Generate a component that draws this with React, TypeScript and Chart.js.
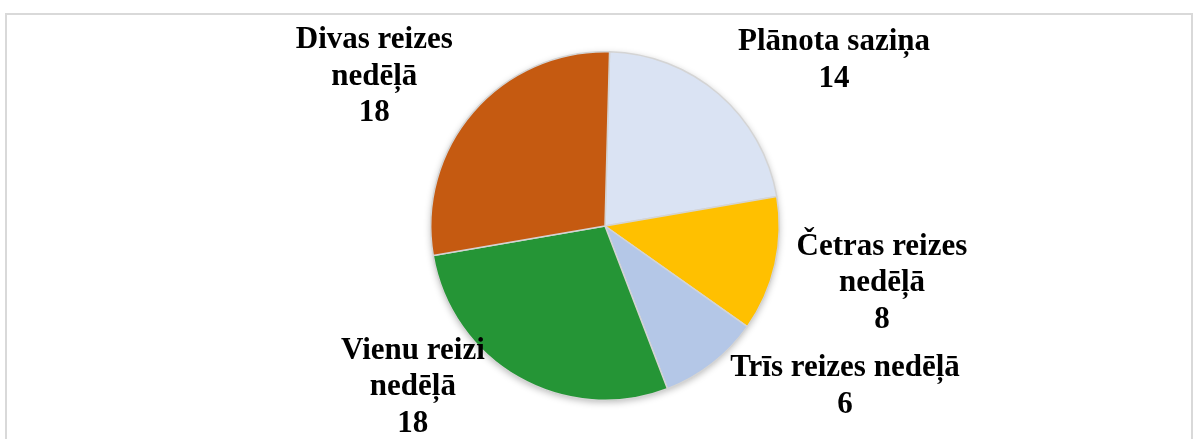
import React, { useEffect, useRef } from "react";
import { Chart, registerables } from "chart.js";

Chart.register(...registerables);

const categories = [
  "Plānota saziņa",
  "Četras reizes nedēļā",
  "Trīs reizes nedēļā",
  "Vienu reizi nedēļā",
  "Divas reizes nedēļā",
];
const values = [14, 8, 6, 18, 18];
const labelLines = [
  ["Plānota saziņa"],
  ["Četras reizes", "nedēļā"],
  ["Trīs reizes nedēļā"],
  ["Vienu reizi", "nedēļā"],
  ["Divas reizes", "nedēļā"],
];
const colors = ["#DAE3F3", "#FFC000", "#B4C7E7", "#259536", "#C55A11"];
// label offsets (px) from the outer edge point at each slice's mid-angle
const labelOffsets = [
  [115, -34],
  [107, 19],
  [133, 23],
  [-106, 10],
  [-99, -35],
];

const W = 1197;
const H = 439;

export default function App() {
  const ref = useRef<HTMLCanvasElement | null>(null);

  useEffect(() => {
    document.body.style.margin = "0";
    const canvas = ref.current!;
    const shadowPlugin = {
      id: "pieShadow",
      beforeDatasetsDraw(chart: any) {
        const meta = chart.getDatasetMeta(0);
        const a = meta.data[0];
        if (!a) return;
        const ctx = chart.ctx;
        ctx.save();
        ctx.shadowColor = "rgba(0,0,0,0.28)";
        ctx.shadowBlur = 7;
        ctx.shadowOffsetX = 0;
        ctx.shadowOffsetY = 2;
        ctx.fillStyle = "#ffffff";
        ctx.beginPath();
        ctx.arc(a.x, a.y, a.outerRadius, 0, Math.PI * 2);
        ctx.fill();
        ctx.restore();
      },
    };
    const labelPlugin = {
      id: "sliceLabels",
      afterDatasetsDraw(chart: any) {
        const meta = chart.getDatasetMeta(0);
        const ctx = chart.ctx;
        ctx.save();
        ctx.fillStyle = "#000000";
        ctx.font = "bold 31px 'Liberation Serif', 'Times New Roman', serif";
        ctx.textAlign = "center";
        ctx.textBaseline = "middle";
        const lh = 36.5;
        meta.data.forEach((arc: any, i: number) => {
          const mid = (arc.startAngle + arc.endAngle) / 2;
          const ox = arc.x + Math.cos(mid) * arc.outerRadius;
          const oy = arc.y + Math.sin(mid) * arc.outerRadius;
          const cx = ox + labelOffsets[i][0];
          const cy = oy + labelOffsets[i][1];
          const lines = [...labelLines[i], String(values[i])];
          const top = cy - ((lines.length - 1) * lh) / 2;
          lines.forEach((t, k) => ctx.fillText(t, cx, top + k * lh));
        });
        ctx.restore();
      },
    };
    const chart = new Chart(canvas, {
      type: "pie",
      data: {
        labels: categories,
        datasets: [
          {
            data: values,
            backgroundColor: colors,
            borderColor: "#d4d4d4",
            borderWidth: 1.5,
          },
        ],
      },
      options: {
        responsive: false,
        animation: false,
        rotation: 1.5,
        layout: { padding: { left: 430, right: 417, top: 51, bottom: 38 } },
        plugins: {
          legend: { display: false },
          tooltip: { enabled: false },
        },
      },
      plugins: [shadowPlugin, labelPlugin],
    });
    return () => chart.destroy();
  }, []);

  return (
    <div
      style={{
        position: "fixed",
        left: 0,
        top: 0,
        width: W,
        height: H,
        background: "#ffffff",
        overflow: "hidden",
      }}
    >
      <div
        style={{
          position: "absolute",
          left: 5,
          top: 13,
          width: 1188,
          height: 500,
          border: "2px solid #d9d9d9",
          boxSizing: "border-box",
        }}
      />
      <canvas
        ref={ref}
        width={W}
        height={H}
        style={{ position: "absolute", left: 0, top: 0, width: W, height: H }}
      />
    </div>
  );
}
